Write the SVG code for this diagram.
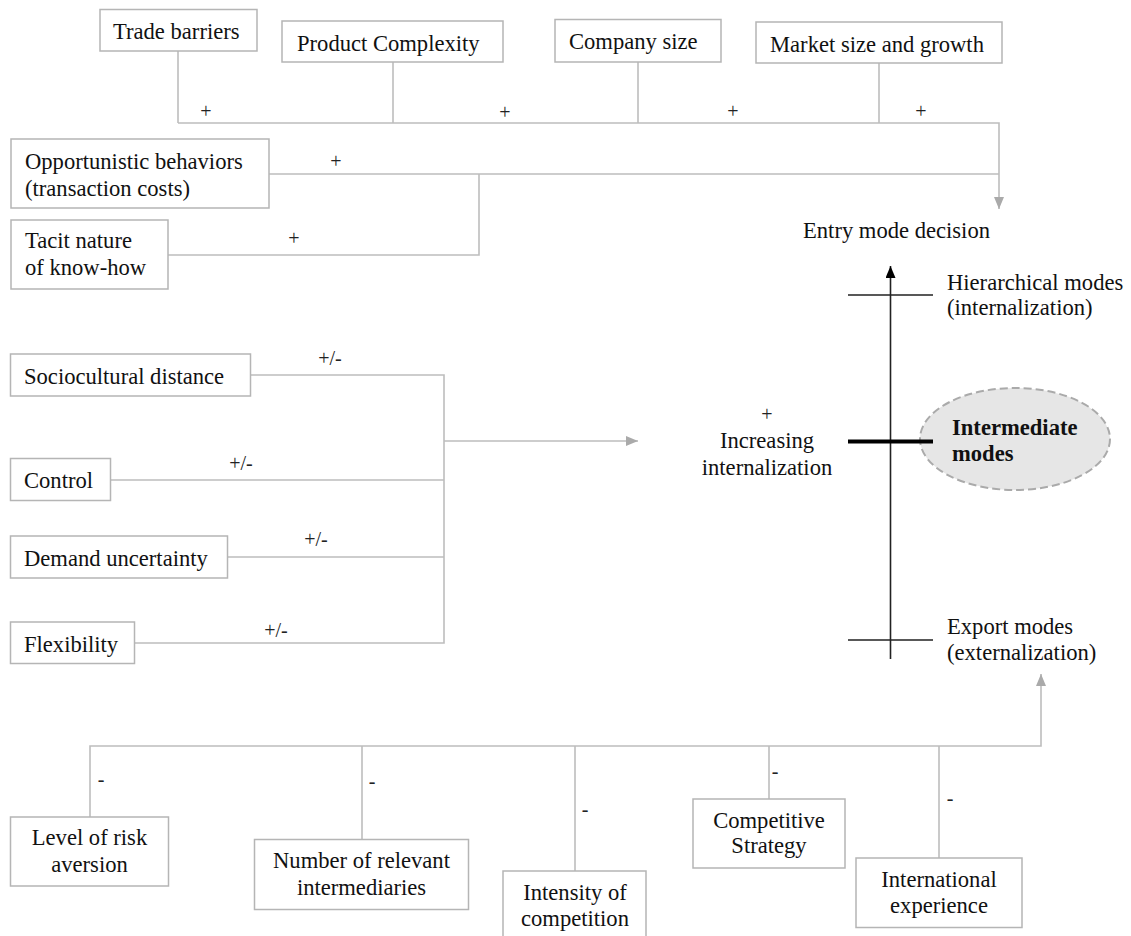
<svg xmlns="http://www.w3.org/2000/svg" width="1131" height="936" viewBox="0 0 1131 936">
<style>
  text { font-family: "Liberation Serif", "Times New Roman", serif; font-size: 22.6px; fill: #111; }
  .sign { font-size: 20px; fill: #222; }
  .mid { text-anchor: middle; }
  .bold { font-weight: bold; }
  .box { fill: #fff; stroke: #b5b5b5; stroke-width: 1.5; }
  .conn { fill: none; stroke: #bdbdbd; stroke-width: 1.6; }
  .axis { fill: none; stroke: #222; stroke-width: 1.6; }
</style>
<defs>
  <marker id="grayArrow" markerUnits="userSpaceOnUse" markerWidth="12" markerHeight="12" viewBox="0 0 12 10" refX="12" refY="5" orient="auto">
    <path d="M0,0 L12,5 L0,10 Z" fill="#aaaaaa"/>
  </marker>
  <marker id="blackArrow" markerUnits="userSpaceOnUse" markerWidth="12" markerHeight="10" viewBox="0 0 12 10" refX="12" refY="5" orient="auto">
    <path d="M0,0 L12,5 L0,10 Z" fill="#000"/>
  </marker>
</defs>

<g id="connectors">
  <!-- top group -->
  <path class="conn" d="M178,51 V123 M393,62 V123 M638,62 V123 M879,63 V123"/>
  <path class="conn" d="M178,123 H999 V209" marker-end="url(#grayArrow)"/>
  <path class="conn" d="M269,174 H999"/>
  <path class="conn" d="M168,255 H479 V174"/>
  <!-- left group -->
  <path class="conn" d="M250,375 H444 V643 H135"/>
  <path class="conn" d="M110,480 H444 M227,557 H444"/>
  <path class="conn" d="M444,441 H638" marker-end="url(#grayArrow)"/>
  <!-- bottom group -->
  <path class="conn" d="M90,817 V746 H1041 V674" marker-end="url(#grayArrow)"/>
  <path class="conn" d="M362,746 V839 M575,746 V871 M769,746 V799 M939,746 V858"/>
  <!-- signs -->
  <g class="sign">
    <text class="sign mid" x="206" y="118">+</text>
    <text class="sign mid" x="505" y="119">+</text>
    <text class="sign mid" x="733" y="118">+</text>
    <text class="sign mid" x="921" y="118">+</text>
    <text class="sign mid" x="336" y="168">+</text>
    <text class="sign mid" x="294" y="245">+</text>
    <text class="sign mid" x="330" y="365">+/-</text>
    <text class="sign mid" x="241" y="470">+/-</text>
    <text class="sign mid" x="316" y="546">+/-</text>
    <text class="sign mid" x="276" y="637">+/-</text>
    <text class="sign mid" x="101" y="786">-</text>
    <text class="sign mid" x="372" y="788">-</text>
    <text class="sign mid" x="585" y="816">-</text>
    <text class="sign mid" x="775" y="778">-</text>
    <text class="sign mid" x="950" y="805">-</text>
  </g>
</g>

<g id="trade-barriers">
  <rect class="box" x="100" y="9.5" width="157" height="41.5"/>
  <text x="113" y="39">Trade barriers</text>
</g>
<g id="product-complexity">
  <rect class="box" x="282" y="21" width="221" height="41"/>
  <text x="297" y="50.5">Product Complexity</text>
</g>
<g id="company-size">
  <rect class="box" x="555" y="19.5" width="166" height="42.5"/>
  <text x="569" y="49">Company size</text>
</g>
<g id="market-size">
  <rect class="box" x="756" y="22" width="246" height="41"/>
  <text x="770" y="51.5">Market size and growth</text>
</g>
<g id="opportunistic">
  <rect class="box" x="11" y="139" width="258" height="69"/>
  <text x="25" y="169">Opportunistic behaviors</text>
  <text x="25" y="196">(transaction costs)</text>
</g>
<g id="tacit">
  <rect class="box" x="11" y="220" width="157" height="69"/>
  <text x="25" y="248">Tacit nature</text>
  <text x="25" y="275">of know-how</text>
</g>
<g id="sociocultural">
  <rect class="box" x="10.5" y="354" width="240" height="42"/>
  <text x="24" y="384">Sociocultural distance</text>
</g>
<g id="control">
  <rect class="box" x="10.5" y="458.5" width="100" height="42"/>
  <text x="24" y="488">Control</text>
</g>
<g id="demand-uncertainty">
  <rect class="box" x="10.5" y="536" width="217" height="42"/>
  <text x="24" y="566">Demand uncertainty</text>
</g>
<g id="flexibility">
  <rect class="box" x="10.5" y="622" width="124" height="41.5"/>
  <text x="24" y="652">Flexibility</text>
</g>

<g id="entry-mode-decision">
  <text x="803" y="238">Entry mode decision</text>
</g>
<g id="increasing-internalization">
  <text class="sign mid" x="767" y="421">+</text>
  <text class="mid" x="767" y="448">Increasing</text>
  <text class="mid" x="767" y="475">internalization</text>
</g>
<g id="intermediate-modes">
  <ellipse cx="1015" cy="439" rx="95" ry="51" fill="#e6e6e6" stroke="#aaaaaa" stroke-width="2" stroke-dasharray="8,4"/>
  <text class="bold" x="952" y="435">Intermediate</text>
  <text class="bold" x="952" y="461">modes</text>
</g>
<g id="axis">
  <path class="axis" d="M890.5,659 V266" marker-end="url(#blackArrow)"/>
  <path class="axis" d="M848,295 H933 M848,640 H933"/>
  <path d="M848,441.5 H933" stroke="#000" stroke-width="4"/>
</g>
<g id="hierarchical-modes">
  <text x="947" y="290">Hierarchical modes</text>
  <text x="947" y="315">(internalization)</text>
</g>
<g id="export-modes">
  <text x="947" y="634">Export modes</text>
  <text x="947" y="660">(externalization)</text>
</g>

<g id="risk-aversion">
  <rect class="box" x="10.5" y="817" width="158" height="69"/>
  <text class="mid" x="89.5" y="845">Level of risk</text>
  <text class="mid" x="89.5" y="872">aversion</text>
</g>
<g id="intermediaries">
  <rect class="box" x="254.5" y="839.5" width="214" height="70"/>
  <text class="mid" x="361.5" y="868">Number of relevant</text>
  <text class="mid" x="361.5" y="895">intermediaries</text>
</g>
<g id="competition">
  <rect class="box" x="503" y="871" width="143" height="72"/>
  <text class="mid" x="575" y="900">Intensity of</text>
  <text class="mid" x="575" y="926">competition</text>
</g>
<g id="competitive-strategy">
  <rect class="box" x="693" y="799" width="152" height="69"/>
  <text class="mid" x="769" y="828">Competitive</text>
  <text class="mid" x="769" y="853">Strategy</text>
</g>
<g id="international-experience">
  <rect class="box" x="856" y="858" width="166" height="69.5"/>
  <text class="mid" x="939" y="887">International</text>
  <text class="mid" x="939" y="913">experience</text>
</g>
</svg>
